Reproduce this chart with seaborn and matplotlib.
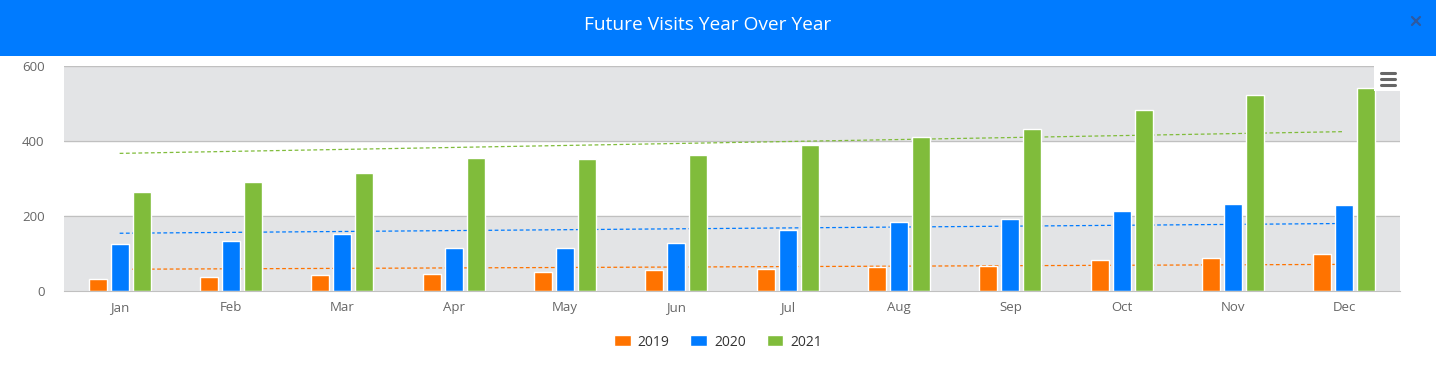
import pandas as pd
import numpy as np
import matplotlib.pyplot as plt
import seaborn as sns
from matplotlib.patches import Rectangle
from matplotlib.lines import Line2D

# values
months = ["Jan", "Feb", "Mar", "Apr", "May", "Jun",
          "Jul", "Aug", "Sep", "Oct", "Nov", "Dec"]
years = ["2019", "2020", "2021"]
visits_2019 = [32, 38, 43, 46, 52, 57, 60, 64, 68, 83, 89, 99]
visits_2020 = [125, 133, 153, 116, 114, 128, 162, 185, 193, 213, 232, 229]
visits_2021 = [263, 291, 316, 356, 352, 364, 389, 412, 432, 483, 522, 541]

# dashed trend lines: value at Jan and at Dec
trend_2019 = [58, 71]
trend_2020 = [154, 180]
trend_2021 = [367, 425]

colors = {"2019": "#FF7300", "2020": "#007BFF", "2021": "#80BC3B"}

df = pd.DataFrame({
    "month": months * 3,
    "year": [y for y in years for _ in months],
    "visits": visits_2019 + visits_2020 + visits_2021,
})
trends = pd.DataFrame({
    "x": [0, 11] * 3,
    "year": [y for y in years for _ in range(2)],
    "value": trend_2019 + trend_2020 + trend_2021,
})

sns.set_style("white")
plt.rcParams["font.family"] = ["Open Sans", "DejaVu Sans"]

W, H = 1436, 373
fig = plt.figure(figsize=(W / 100, H / 100), dpi=100)

# blue header bar
fig.add_artist(Rectangle((0, 1 - 56 / H), 1, 56 / H, transform=fig.transFigure,
                         facecolor="#007BFF", edgecolor="none", zorder=0))
fig.text(0.4925, 1 - 25 / H, "Future Visits Year Over Year", color="white",
         fontsize=13.8, ha="center", va="center")
# close button
for dx, dy in ((1, 1), (1, -1)):
    fig.add_artist(Line2D([(1416 - 4 * dx) / W, (1416 + 4 * dx) / W],
                          [1 - (21 - 4 * dy) / H, 1 - (21 + 4 * dy) / H],
                          transform=fig.transFigure, color="#2f5aa0", lw=1.6))

ax = fig.add_axes([64 / W, 1 - 291 / H, (1400 - 64) / W, (291 - 66) / H])
ax.set_facecolor("#E3E4E6")
ax.axhspan(200, 400, color="white", zorder=0)
for v in (200, 400, 600):
    ax.axhline(v, color="#C0C0C0", lw=1, zorder=0.5)

sns.lineplot(data=trends, x="x", y="value", hue="year", palette=colors,
             lw=0.9, dashes=False, legend=False, ax=ax, zorder=1)
for line in ax.lines[3:]:
    line.set_dashes((3, 2))

sns.barplot(data=df, x="month", y="visits", hue="year", palette=colors,
            width=0.593, gap=0.18, edgecolor="white", linewidth=1,
            saturation=1, ax=ax, zorder=2)

ax.set_xlim(-0.5, 11.5)
ax.set_ylim(0, 600)
ax.set_yticks([0, 200, 400, 600])
ax.set_xlabel("")
ax.set_ylabel("")
for s in ("top", "right", "left"):
    ax.spines[s].set_visible(False)
ax.spines["bottom"].set_color("#C0C0C0")
ax.set_xticks(np.arange(-0.5, 12, 1), minor=True)
ax.tick_params(axis="x", which="major", length=0, pad=7, labelsize=9.5, labelcolor="#666666")
ax.tick_params(axis="x", which="minor", length=7, width=1, color="#C0C0C0")
ax.tick_params(axis="y", length=0, pad=14, labelsize=9.5, labelcolor="#666666")

handles, labels = ax.get_legend_handles_labels()
ax.get_legend().remove()
fig.legend(handles, labels, loc="center", bbox_to_anchor=(0.5, 1 - 342 / H),
           ncol=3, frameon=False, fontsize=10, handlelength=1.2,
           handleheight=0.9, handletextpad=0.5, columnspacing=1.5,
           labelcolor="#333333")

# export menu icon
fig.add_artist(Rectangle((1374 / W, 1 - 91 / H), 26 / W, 25 / H,
                         transform=fig.transFigure, facecolor="white",
                         edgecolor="none", zorder=5))
for yy in (73, 79, 85):
    fig.add_artist(Line2D([1381 / W, 1395 / W], [1 - yy / H, 1 - yy / H],
                          transform=fig.transFigure, color="#666666", lw=2.2,
                          solid_capstyle="round", zorder=6))

fig.savefig("out.png", dpi=100)
